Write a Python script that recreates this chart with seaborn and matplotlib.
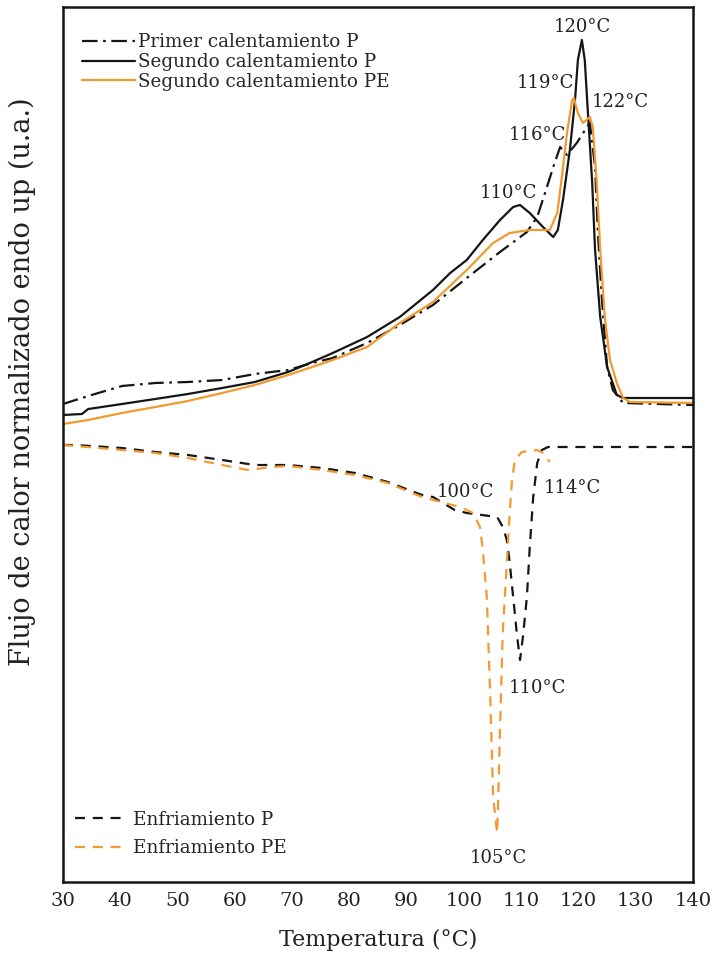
import numpy as np
import pandas as pd
import matplotlib
matplotlib.use("Agg")
import matplotlib.pyplot as plt
import seaborn as sns

# ---------------- data ----------------
# Segundo calentamiento P (black solid)
t_seg_p = [30.0, 33.3, 34.4, 35.6, 40.3, 46.1, 51.8, 57.8, 63.5, 69.3, 73.5, 77.1, 83.1,
           88.8, 94.6, 97.6, 100.5, 103.3, 106.3, 108.6, 109.8, 111.5, 113.8, 115.6, 116.4,
           117.3, 118.5, 119.4, 119.9, 120.6, 121.1, 121.7, 122.4, 122.9, 123.8, 125.0,
           126.7, 127.8, 140.0]
y_seg_p = [46.7, 46.8, 47.3, 47.4, 47.8, 48.3, 48.8, 49.4, 50.0, 51.0, 52.0, 52.9, 54.5,
           56.5, 59.2, 60.9, 62.2, 64.2, 66.2, 67.5, 67.7, 66.9, 65.5, 64.5, 65.2,
           68.2, 73.2, 78.2, 82.2, 84.2, 82.2, 76.5, 69.9, 63.2, 56.5, 51.5,
           48.7, 48.4, 48.4]

# Primer calentamiento P (black dash-dot)
t_pri_p = [30.0, 34.4, 40.3, 46.1, 51.8, 57.8, 63.5, 69.3, 73.5, 77.1, 83.1, 88.8, 94.6,
           100.5, 106.3, 111.0, 112.8, 114.5, 115.6, 116.8, 118.0, 119.7, 121.5, 122.0,
           122.9, 123.4, 124.1, 125.0, 126.0, 127.8, 140.0]
y_pri_p = [47.8, 48.6, 49.6, 49.9, 50.0, 50.2, 50.8, 51.2, 51.9, 52.4, 53.9, 55.7, 57.7,
           60.4, 63.0, 65.0, 66.5, 69.5, 71.5, 73.5, 72.7, 73.9, 75.5, 75.9,
           71.5, 64.9, 58.2, 51.5, 49.2, 47.9, 47.7]

# Segundo calentamiento PE (orange solid)
t_seg_pe = [30.0, 34.4, 40.3, 46.1, 51.8, 57.8, 63.5, 69.3, 73.5, 77.1, 83.1, 88.8, 94.6,
            100.5, 105.1, 108.0, 111.5, 115.0, 116.3, 117.1, 118.0, 118.9, 119.2, 119.9,
            120.8, 122.0, 122.5, 123.2, 123.8, 124.6, 125.5, 126.7, 127.8, 129.0, 140.0]
y_seg_pe = [45.8, 46.2, 46.9, 47.5, 48.1, 48.9, 49.7, 50.7, 51.5, 52.2, 53.5, 55.9, 58.0,
            61.2, 63.9, 64.9, 65.2, 65.2, 66.9, 70.5, 74.9, 78.2, 78.4, 76.9,
            75.9, 76.5, 75.5, 69.9, 63.2, 56.5, 52.2, 49.9, 48.4, 48.0, 47.9]

# Enfriamiento P (black dashed)
t_enf_p = [30.0, 32.1, 40.3, 46.1, 51.8, 57.8, 63.5, 69.3, 75.2, 81.0, 86.7, 92.7, 94.6,
           98.4, 100.5, 105.8, 106.8, 107.5, 108.0, 108.6, 109.3, 109.8, 110.3, 111.0,
           111.5, 112.1, 112.8, 113.6, 114.7, 140.0]
y_enf_p = [43.7, 43.7, 43.4, 43.0, 42.7, 42.2, 41.7, 41.7, 41.4, 40.9, 40.0, 38.7, 38.5,
           37.2, 36.9, 36.5, 35.5, 34.2, 31.9, 28.5, 24.5, 22.2, 24.5, 28.5,
           33.5, 38.5, 41.9, 43.2, 43.5, 43.5]

# Enfriamiento PE (orange dashed)
t_enf_pe = [30.0, 40.3, 46.1, 51.8, 57.8, 62.3, 66.5, 69.3, 75.2, 81.0, 86.7, 92.7, 99.3,
            101.6, 102.8, 103.3, 104.0, 104.6, 105.1, 105.8, 106.0, 106.3, 106.8, 107.5,
            108.0, 108.4, 108.9, 110.1, 112.8, 113.8, 115.0]
y_enf_pe = [43.7, 43.2, 42.9, 42.4, 41.7, 41.2, 41.5, 41.6, 41.2, 40.7, 39.9, 38.5, 37.5,
            36.9, 35.5, 33.2, 28.5, 18.5, 8.5, 4.9, 8.5, 15.2, 25.2, 31.9,
            36.9, 40.2, 42.2, 43.0, 43.2, 42.9, 42.0]

# peak annotations: (text, T, y)
ann_text = ["120°C", "119°C", "122°C", "116°C", "110°C", "100°C", "114°C", "110°C", "105°C"]
ann_t = [120.6, 114.2, 127.3, 112.8, 107.7, 100.2, 118.9, 112.8, 106.0]
ann_y = [85.5, 79.9, 78.0, 74.7, 68.9, 39.0, 39.4, 19.4, 2.4]

x_ticks = [30, 40, 50, 60, 70, 80, 90, 100, 110, 120, 130, 140]

# ---------------- style ----------------
sns.set_theme(style="white")
plt.rcParams["font.family"] = ["DejaVu Serif"]
plt.rcParams["mathtext.fontset"] = "dejavuserif"

BLACK = "#151515"
ORANGE = "#F39A2E"

fig = plt.figure(figsize=(7.16, 9.63), dpi=100)
ax = fig.add_axes([63 / 716, 1 - 882 / 963, 630 / 716, 875 / 963])

def draw(t, y, color, label, dashes=None):
    df = pd.DataFrame({"T": t, "y": y})
    sns.lineplot(data=df, x="T", y="y", ax=ax, color=color, lw=1.6,
                 sort=False, estimator=None, label=label)
    line = ax.get_lines()[-1]
    if dashes is not None:
        line.set_dashes(dashes)
    return line

h1 = draw(t_pri_p, y_pri_p, BLACK, "Primer calentamiento P", (7, 2.5, 1.2, 2.5))
h2 = draw(t_seg_p, y_seg_p, BLACK, "Segundo calentamiento P")
h3 = draw(t_seg_pe, y_seg_pe, ORANGE, "Segundo calentamiento PE")
h4 = draw(t_enf_p, y_enf_p, BLACK, "Enfriamiento P", (4.5, 3.5))
h5 = draw(t_enf_pe, y_enf_pe, ORANGE, "Enfriamiento PE", (4.5, 3.5))

for txt, tx, ty in zip(ann_text, ann_t, ann_y):
    ax.text(tx, ty, txt, ha="center", va="center", fontsize=13, color="#222222")

ax.set_xlim(30, 140)
ax.set_ylim(0, 87.5)
ax.set_xticks(x_ticks)
ax.set_yticks([])
ax.tick_params(axis="x", direction="in", length=5, width=1.5, labelsize=14,
               pad=7, colors=BLACK, labelcolor="#222222")
for s in ax.spines.values():
    s.set_linewidth(1.8)
    s.set_color(BLACK)

ax.set_xlabel("Temperatura (°C)", fontsize=16, color="#222222", labelpad=14)
ax.set_ylabel("Flujo de calor normalizado endo up (u.a.)", fontsize=19.5, color="#222222")
ax.yaxis.set_label_coords(-0.043, 0.572)

ax.get_legend().remove()
leg1 = ax.legend(handles=[h1, h2, h3], loc="upper left", bbox_to_anchor=(0.030, 0.970),
                 frameon=False, fontsize=13.2, handlelength=2.9, handletextpad=0.16,
                 labelspacing=0.1, borderaxespad=0.0, borderpad=0.0)
ax.add_artist(leg1)
leg2 = ax.legend(handles=[h4, h5], loc="lower left", bbox_to_anchor=(0.019, 0.0286),
                 frameon=False, fontsize=13.2, handlelength=2.73, handletextpad=0.44,
                 labelspacing=0.55, borderaxespad=0.0, borderpad=0.0)

fig.savefig("out.png", dpi=100)
